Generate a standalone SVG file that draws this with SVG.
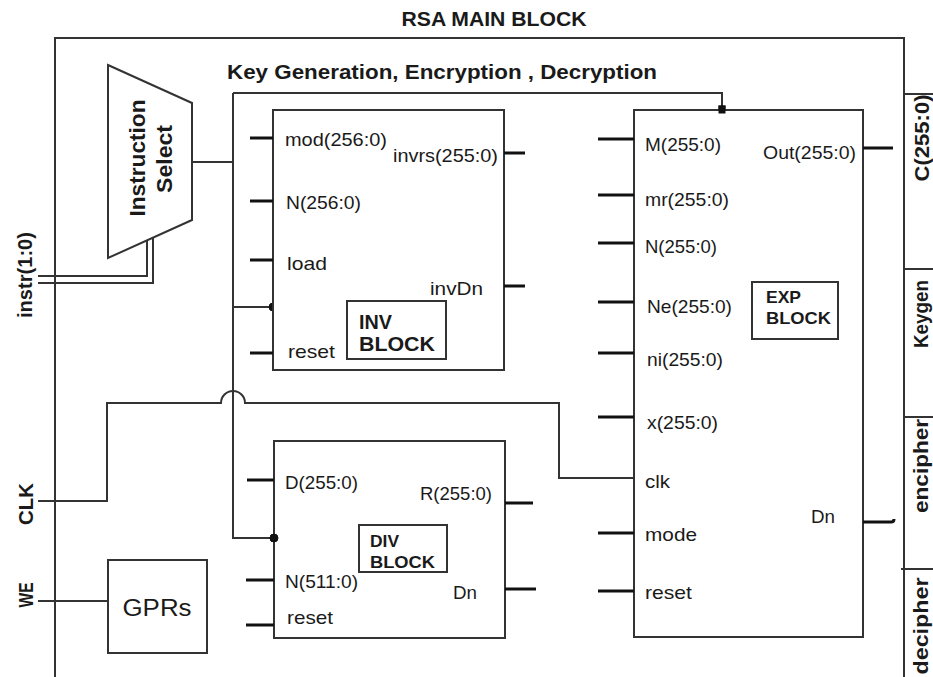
<svg xmlns="http://www.w3.org/2000/svg" width="933" height="677" viewBox="0 0 933 677">
<style>
text{font-family:"Liberation Sans",Arial,sans-serif;fill:#1a1a1a}
.b{font-weight:bold}
.lbl{font-size:19px}
.box{fill:#fff;stroke:#333;stroke-width:2}
.w{fill:none;stroke:#333;stroke-width:2}
.pin{fill:none;stroke:#111;stroke-width:3}
.dot{fill:#111;stroke:#111;stroke-width:1}
</style>
<rect width="933" height="677" fill="#fff"/>
<g id="main-block">
<path class="w" d="M55,677 V38 H904 V677"/>
<path class="w" d="M904,94 H933 M904,269 H933 M904,417 H933 M901,569 H933"/>
<text class="b" x="494" y="26" font-size="20" text-anchor="middle" textLength="185" lengthAdjust="spacingAndGlyphs">RSA MAIN BLOCK</text>
<text class="b" x="227" y="79" font-size="21" textLength="430" lengthAdjust="spacingAndGlyphs">Key Generation, Encryption , Decryption</text>
<text class="b" font-size="21" text-anchor="middle" transform="translate(929,138) rotate(-90)" textLength="87" lengthAdjust="spacingAndGlyphs">C(255:0)</text>
<text class="b" font-size="21" text-anchor="middle" transform="translate(928,314) rotate(-90)" textLength="68" lengthAdjust="spacingAndGlyphs">Keygen</text>
<text class="b" font-size="21" text-anchor="middle" transform="translate(928,466) rotate(-90)" textLength="94" lengthAdjust="spacingAndGlyphs">encipher</text>
<text class="b" font-size="21" text-anchor="middle" transform="translate(928,626) rotate(-90)" textLength="97" lengthAdjust="spacingAndGlyphs">decipher</text>
<text class="b" font-size="20" text-anchor="middle" transform="translate(32,275) rotate(-90)" textLength="86" lengthAdjust="spacingAndGlyphs">instr(1:0)</text>
<text class="b" font-size="20" text-anchor="middle" transform="translate(33,504) rotate(-90)" textLength="42" lengthAdjust="spacingAndGlyphs">CLK</text>
<text class="b" font-size="20" text-anchor="middle" transform="translate(33,595) rotate(-90)" textLength="25" lengthAdjust="spacingAndGlyphs">WE</text>
</g>
<g id="connectors">
<path class="w" d="M38,276 H147 V239 A3,3 0 0 1 153,239 V283 H38"/>
<path class="w" d="M193,162 H233"/>
<path class="w" d="M233,93 V538 H274"/>
<path class="w" d="M233,93 H722 V110"/>
<path class="w" d="M233,307 H273"/>
<path class="w" d="M38,501 H107 V403 H221 A12,12 0 0 1 245,403 H559 V478 H634"/>
<path class="w" d="M38,601 H108"/>
<circle class="dot" cx="273" cy="307" r="4"/>
<circle class="dot" cx="274" cy="538" r="4"/>
<rect class="dot" x="719" y="106" width="6" height="7"/>
</g>
<g id="instruction-select">
<polygon class="box" points="108,65 192,103 192,220 108,258"/>
<text class="b" font-size="22" text-anchor="middle" transform="translate(145,158) rotate(-90)" textLength="117" lengthAdjust="spacingAndGlyphs">Instruction</text>
<text class="b" font-size="22" text-anchor="middle" transform="translate(172,159) rotate(-90)" textLength="68" lengthAdjust="spacingAndGlyphs">Select</text>
</g>
<g id="inv-block">
<rect class="box" x="273" y="110" width="231" height="260"/>
<path class="pin" d="M250,138 H273 M250,201 H273 M250,260 H273 M250,353 H273 M504,153 H525 M504,286 H525"/>
<text class="lbl" x="285" y="146" textLength="102" lengthAdjust="spacingAndGlyphs">mod(256:0)</text>
<text class="lbl" x="286" y="209" textLength="75" lengthAdjust="spacingAndGlyphs">N(256:0)</text>
<text class="lbl" x="287" y="270" textLength="40" lengthAdjust="spacingAndGlyphs">load</text>
<text class="lbl" x="288" y="358" textLength="47" lengthAdjust="spacingAndGlyphs">reset</text>
<text class="lbl" x="393" y="162" textLength="105" lengthAdjust="spacingAndGlyphs">invrs(255:0)</text>
<text class="lbl" x="430" y="295" textLength="53" lengthAdjust="spacingAndGlyphs">invDn</text>
<rect class="box" x="347" y="301" width="99" height="58"/>
<text class="b" x="359" y="329" font-size="20" textLength="33" lengthAdjust="spacingAndGlyphs">INV</text>
<text class="b" x="359" y="351" font-size="20" textLength="76" lengthAdjust="spacingAndGlyphs">BLOCK</text>
</g>
<g id="div-block">
<rect class="box" x="274" y="441" width="231" height="197"/>
<path class="pin" d="M247,480 H274 M246,580 H274 M246,625 H274 M505,503 H533 M505,589 H536"/>
<circle class="dot" cx="274" cy="538" r="4"/>
<text class="lbl" x="285" y="489" textLength="73" lengthAdjust="spacingAndGlyphs">D(255:0)</text>
<text class="lbl" x="285" y="588" textLength="73" lengthAdjust="spacingAndGlyphs">N(511:0)</text>
<text class="lbl" x="287" y="624" textLength="46" lengthAdjust="spacingAndGlyphs">reset</text>
<text class="lbl" x="420" y="500" textLength="72" lengthAdjust="spacingAndGlyphs">R(255:0)</text>
<text class="lbl" x="453" y="599" textLength="24" lengthAdjust="spacingAndGlyphs">Dn</text>
<rect class="box" x="359" y="525" width="88" height="47"/>
<text class="b" x="370" y="547" font-size="16" textLength="29" lengthAdjust="spacingAndGlyphs">DIV</text>
<text class="b" x="370" y="568" font-size="16" textLength="65" lengthAdjust="spacingAndGlyphs">BLOCK</text>
</g>
<g id="exp-block">
<rect class="box" x="634" y="110" width="229" height="527"/>
<rect class="dot" x="719" y="106" width="6" height="7"/>
<path class="pin" d="M598,139 H634 M598,195 H634 M598,243 H634 M598,302 H634 M598,353 H634 M598,417 H634 M598,533 H634 M598,591 H634 M863,148 H893 M863,522 H891 Q894,522 894,519"/>
<text class="lbl" x="645" y="151" textLength="76" lengthAdjust="spacingAndGlyphs">M(255:0)</text>
<text class="lbl" x="645" y="206" textLength="84" lengthAdjust="spacingAndGlyphs">mr(255:0)</text>
<text class="lbl" x="645" y="253" textLength="72" lengthAdjust="spacingAndGlyphs">N(255:0)</text>
<text class="lbl" x="647" y="313" textLength="85" lengthAdjust="spacingAndGlyphs">Ne(255:0)</text>
<text class="lbl" x="647" y="366" textLength="76" lengthAdjust="spacingAndGlyphs">ni(255:0)</text>
<text class="lbl" x="647" y="429" textLength="71" lengthAdjust="spacingAndGlyphs">x(255:0)</text>
<text class="lbl" x="645" y="488" textLength="25" lengthAdjust="spacingAndGlyphs">clk</text>
<text class="lbl" x="645" y="541" textLength="52" lengthAdjust="spacingAndGlyphs">mode</text>
<text class="lbl" x="645" y="599" textLength="47" lengthAdjust="spacingAndGlyphs">reset</text>
<text class="lbl" x="763" y="159" textLength="93" lengthAdjust="spacingAndGlyphs">Out(255:0)</text>
<text class="lbl" x="811" y="523" textLength="24" lengthAdjust="spacingAndGlyphs">Dn</text>
<rect class="box" x="752" y="282" width="86" height="57"/>
<text class="b" x="766" y="303" font-size="17" textLength="35" lengthAdjust="spacingAndGlyphs">EXP</text>
<text class="b" x="766" y="324" font-size="17" textLength="65" lengthAdjust="spacingAndGlyphs">BLOCK</text>
</g>
<g id="gprs">
<rect class="box" x="108" y="560" width="99" height="93"/>
<text x="157" y="616" font-size="23" text-anchor="middle" textLength="69" lengthAdjust="spacingAndGlyphs">GPRs</text>
</g>
</svg>
